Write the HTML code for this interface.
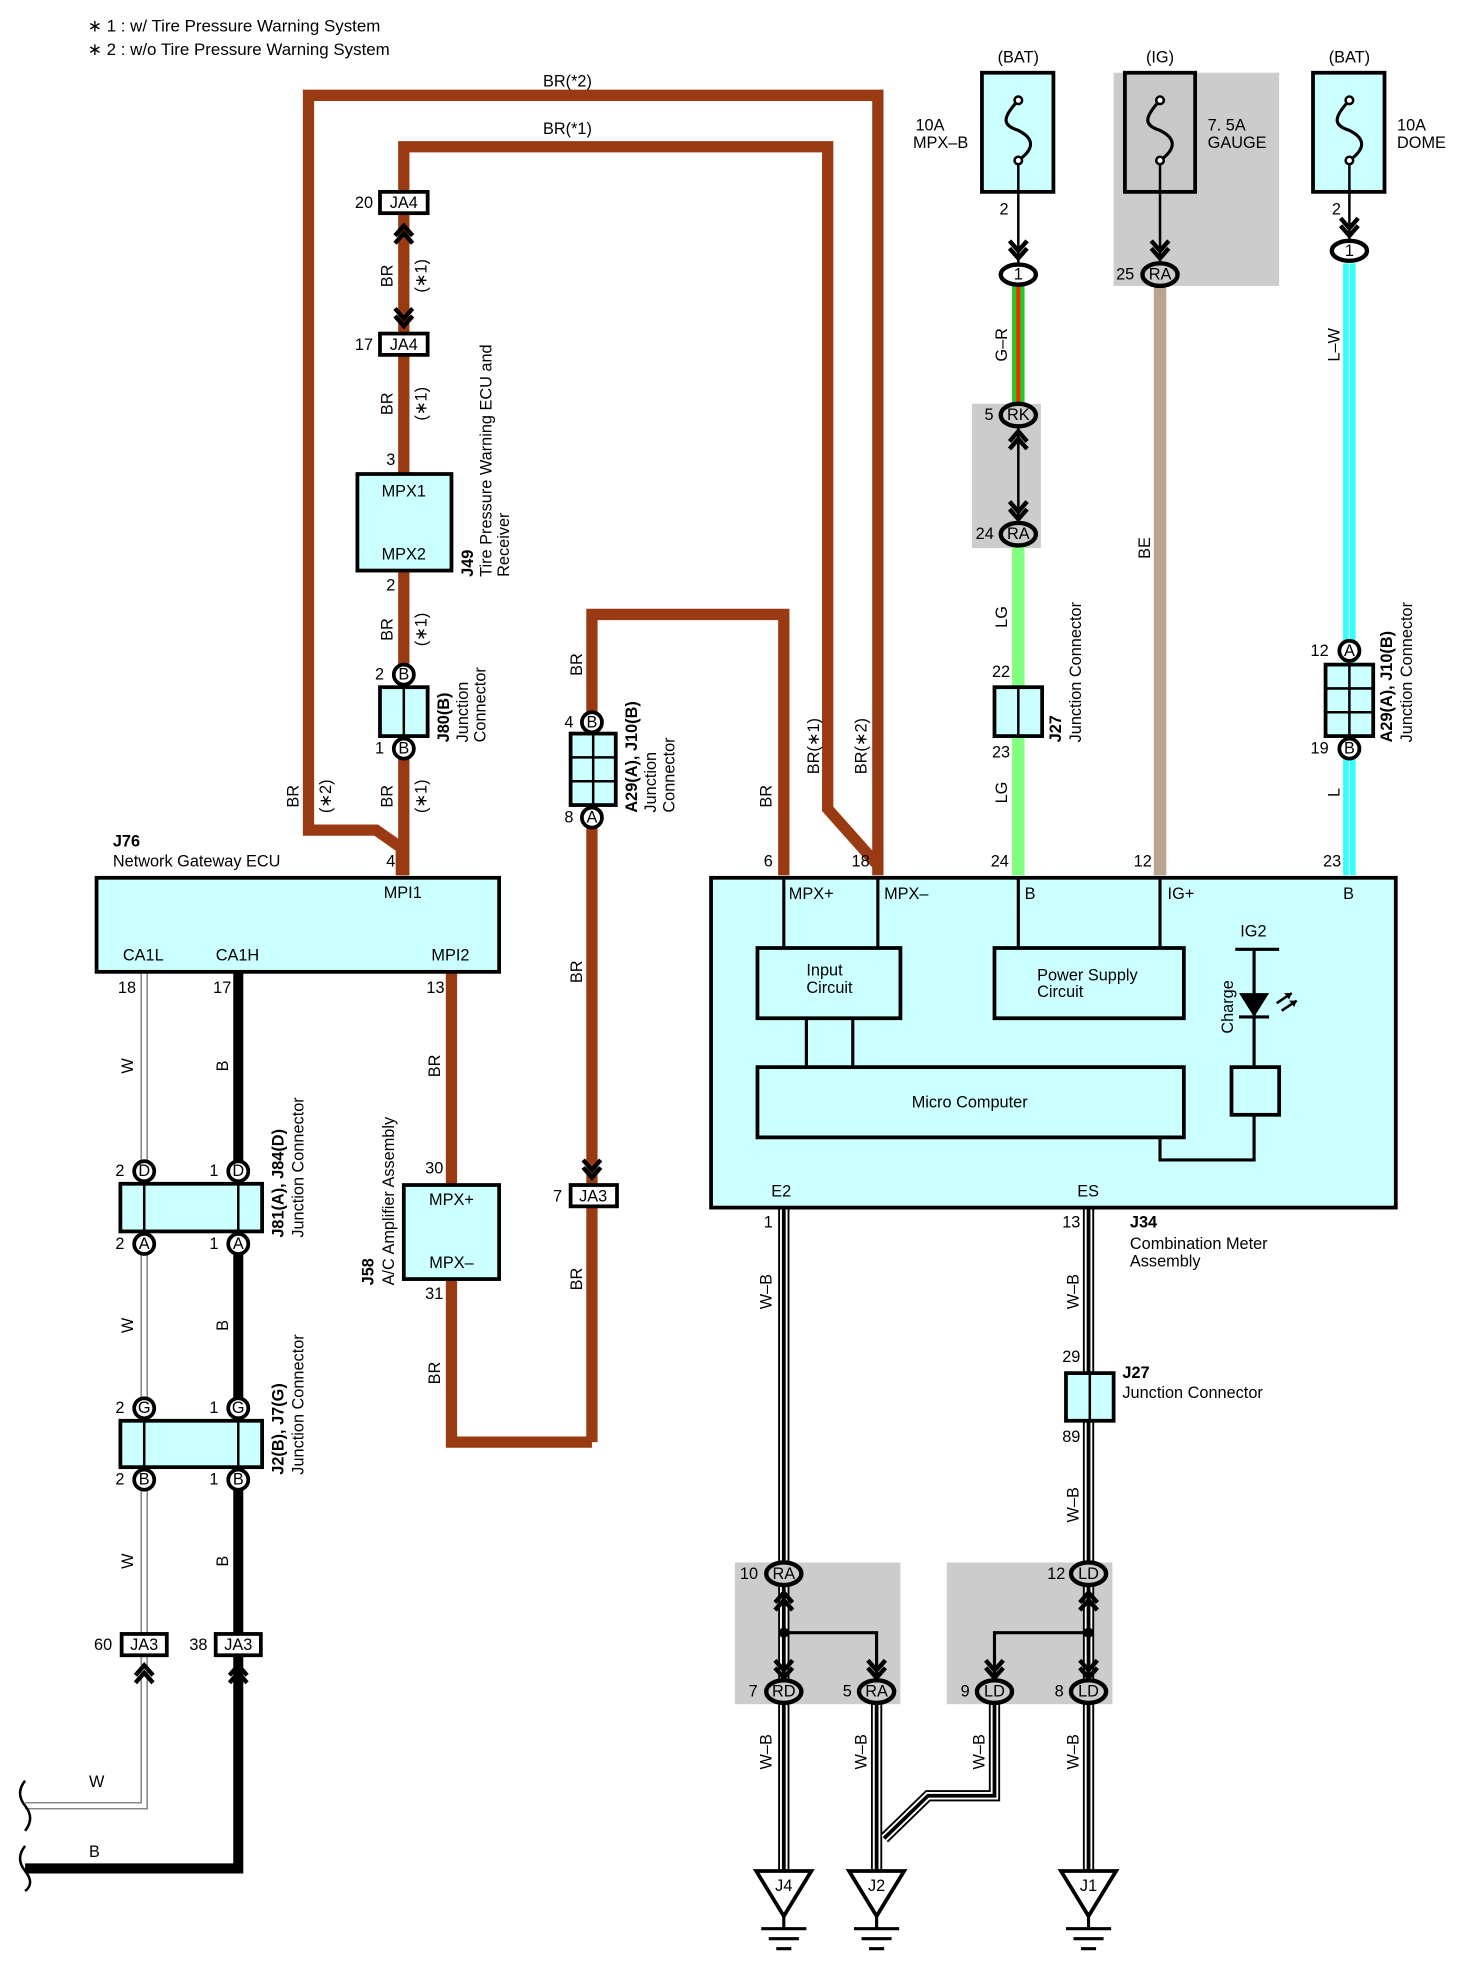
<!DOCTYPE html>
<html><head><meta charset="utf-8"><style>
html,body{margin:0;padding:0;background:#fff}
svg{display:block}
text{font-family:"Liberation Sans",sans-serif;font-size:13px;fill:#000}
.b{font-weight:bold}
.h{font-size:13.5px}
</style></head><body>
<svg width="1461" height="1965" viewBox="0 0 1165 1567" preserveAspectRatio="none" xmlns="http://www.w3.org/2000/svg">
<text class="h" x="70" y="25">∗ 1 : w/ Tire Pressure Warning System</text>
<text class="h" x="70" y="44">∗ 2 : w/o Tire Pressure Warning System</text>

<!-- grey boxes -->
<rect x="888" y="58" width="132" height="170" fill="#cccccc"/>
<rect x="775" y="322" width="55" height="115" fill="#cccccc"/>
<rect x="586" y="1246" width="132" height="113" fill="#cccccc"/>
<rect x="755" y="1246" width="132" height="113" fill="#cccccc"/>

<!-- brown wires -->
<g fill="none" stroke="#9a3a12" stroke-width="9" stroke-linejoin="miter">
<path d="M320,698 L320,676 L300,662 L246,662 L246,76 L700,76 L700,698"/>
<path d="M322,698 L322,117 L660,117 L660,645 L700,690"/>
<path d="M472,1150 L472,490 L625,490 L625,698"/>
<path d="M360,775 L360,1150 L472,1150"/>
</g>
<text x="433" y="69">BR(*2)</text>
<text x="433" y="107">BR(*1)</text>

<!-- colored wires -->
<line x1="812" y1="228" x2="812" y2="322" stroke="#22cc22" stroke-width="10"/>
<line x1="812" y1="228" x2="812" y2="322" stroke="#ff2200" stroke-width="3"/>
<line x1="812" y1="435" x2="812" y2="698" stroke="#80ff80" stroke-width="10"/>
<line x1="925" y1="228" x2="925" y2="698" stroke="#b8a590" stroke-width="10"/>
<line x1="1076" y1="210" x2="1076" y2="698" stroke="#33ffff" stroke-width="10"/>
<line x1="1076" y1="210" x2="1076" y2="698" stroke="#ccffff" stroke-width="1"/>

<!-- left W / B wires -->
<path d="M115,775 L115,1440 L20,1440" fill="none" stroke="#888" stroke-width="6"/>
<path d="M115,775 L115,1440 L20,1440" fill="none" stroke="#fff" stroke-width="3.5"/>
<path d="M190,775 L190,1490 L20,1490" fill="none" stroke="#000" stroke-width="8"/>
<path d="M20,1420 q-8,10 0,20 q8,10 0,20" fill="none" stroke="#000" stroke-width="2"/>
<path d="M20,1472 q-8,10 0,20 q8,10 0,16" fill="none" stroke="#000" stroke-width="2"/>
<text x="71" y="1425">W</text><text x="71" y="1481">B</text>

<!-- W-B wires -->
<g fill="none" stroke-linejoin="miter">
<g stroke="#000" stroke-width="9">
<path d="M625,963 L625,1500"/><path d="M868,963 L868,1500"/><path d="M699,1359 L699,1500"/><path d="M793,1359 L793,1432 L740,1432 L705,1466"/></g>
<g stroke="#fff" stroke-width="6">
<path d="M625,963 L625,1500"/><path d="M868,963 L868,1500"/><path d="M699,1359 L699,1500"/><path d="M793,1359 L793,1432 L740,1432 L705,1466"/></g>
<g stroke="#000" stroke-width="3">
<path d="M625,963 L625,1500"/><path d="M868,963 L868,1500"/><path d="M699,1359 L699,1500"/><path d="M793,1359 L793,1432 L740,1432 L705,1466"/></g>
</g>

<!-- fuses -->
<g stroke="#000" stroke-width="3">
<rect x="783" y="58" width="57" height="95" fill="#ccffff"/>
<rect x="897" y="58" width="56" height="95" fill="#c8c8c8"/>
<rect x="1047" y="58" width="57" height="95" fill="#ccffff"/>
</g>
<g fill="none" stroke="#000" stroke-width="2.5">
<path d="M812,80 C798,95 800,100 812,104 C824,110 826,118 812,128"/>
<path d="M925,80 C911,95 913,100 925,104 C937,110 939,118 925,128"/>
<path d="M1076,80 C1062,95 1064,100 1076,104 C1088,110 1090,118 1076,128"/>
<line x1="812" y1="128" x2="812" y2="210" stroke-width="2"/>
<line x1="925" y1="128" x2="925" y2="210" stroke-width="2"/>
<line x1="1076" y1="128" x2="1076" y2="192" stroke-width="2"/>
<line x1="812" y1="331" x2="812" y2="426" stroke-width="2"/>
</g>
<g fill="#fff" stroke="#000" stroke-width="2">
<circle cx="812" cy="80" r="3"/><circle cx="812" cy="128" r="3"/>
<circle cx="925" cy="80" r="3"/><circle cx="925" cy="128" r="3"/>
<circle cx="1076" cy="80" r="3"/><circle cx="1076" cy="128" r="3"/>
</g>
<g text-anchor="middle"><text x="812" y="50">(BAT)</text><text x="925" y="50">(IG)</text><text x="1076" y="50">(BAT)</text></g>
<text x="730" y="104">10A</text><text x="728" y="118">MPX–B</text>
<text x="963" y="104">7. 5A</text><text x="963" y="118">GAUGE</text>
<text x="1114" y="104">10A</text><text x="1114" y="118">DOME</text>
<text x="797" y="171">2</text><text x="1062" y="171">2</text>

<!-- chevrons -->
<g fill="none" stroke="#000" stroke-width="3.5">
<path d="M805,192 L812,200 L819,192 M805,198 L812,206 L819,198"/>
<path d="M918,192 L925,200 L932,192 M918,198 L925,206 L932,198"/>
<path d="M1069,174 L1076,182 L1083,174 M1069,180 L1076,188 L1083,180"/>
<path d="M805,352 L812,344 L819,352 M805,358 L812,350 L819,358"/>
<path d="M805,400 L812,408 L819,400 M805,406 L812,414 L819,406"/>
<path d="M315,188 L322,180 L329,188 M315,194 L322,186 L329,194"/>
<path d="M315,246 L322,254 L329,246 M315,252 L322,260 L329,252"/>
<path d="M465,925 L472,933 L479,925 M465,931 L472,939 L479,931"/>
<path d="M108,1336 L115,1328 L122,1336 M108,1342 L115,1334 L122,1342"/>
<path d="M183,1336 L190,1328 L197,1336 M183,1342 L190,1334 L197,1342"/>
<path d="M618,1278 L625,1270 L632,1278 M618,1284 L625,1276 L632,1284"/>
<path d="M861,1278 L868,1270 L875,1278 M861,1284 L868,1276 L875,1284"/>
<path d="M618,1324 L625,1332 L632,1324 M618,1330 L625,1338 L632,1330"/>
<path d="M692,1324 L699,1332 L706,1324 M692,1330 L699,1338 L706,1330"/>
<path d="M786,1324 L793,1332 L800,1324 M786,1330 L793,1338 L800,1330"/>
<path d="M861,1324 L868,1332 L875,1324 M861,1330 L868,1338 L875,1330"/>
</g>
<g fill="none" stroke="#000" stroke-width="2.5">
<path d="M625,1262 L625,1340"/><path d="M625,1302 L699,1302 L699,1340"/>
<path d="M868,1262 L868,1340"/><path d="M868,1302 L793,1302 L793,1340"/>
</g>
<circle cx="625" cy="1302" r="4"/><circle cx="868" cy="1302" r="4"/>

<!-- ovals -->
<g stroke="#000" stroke-width="3.5">
<ellipse cx="812" cy="219" rx="14" ry="8" fill="#fff"/>
<ellipse cx="1076" cy="200" rx="14" ry="8" fill="#fff"/>
<ellipse cx="925" cy="219" rx="14" ry="9" fill="#ccc"/>
<ellipse cx="812" cy="331" rx="14" ry="9" fill="#ccc"/>
<ellipse cx="812" cy="426" rx="14" ry="9" fill="#ccc"/>
<ellipse cx="625" cy="1255" rx="14" ry="9" fill="#ccc"/>
<ellipse cx="625" cy="1349" rx="14" ry="9" fill="#ccc"/>
<ellipse cx="699" cy="1349" rx="14" ry="9" fill="#ccc"/>
<ellipse cx="868" cy="1255" rx="14" ry="9" fill="#ccc"/>
<ellipse cx="793" cy="1349" rx="14" ry="9" fill="#ccc"/>
<ellipse cx="868" cy="1349" rx="14" ry="9" fill="#ccc"/>
</g>
<g text-anchor="middle">
<text x="812" y="223">1</text><text x="1076" y="204">1</text><text x="925" y="223">RA</text>
<text x="812" y="335">RK</text><text x="812" y="430">RA</text>
<text x="625" y="1259">RA</text><text x="625" y="1353">RD</text><text x="699" y="1353">RA</text>
<text x="868" y="1259">LD</text><text x="793" y="1353">LD</text><text x="868" y="1353">LD</text>
</g>
<text x="890" y="223">25</text><text x="785" y="335">5</text><text x="778" y="430">24</text>
<text x="590" y="1259">10</text><text x="597" y="1353">7</text><text x="672" y="1353">5</text>
<text x="835" y="1259">12</text><text x="766" y="1353">9</text><text x="841" y="1353">8</text>

<!-- boxes cyan -->
<g stroke="#000" stroke-width="3" fill="#ccffff">
<rect x="285" y="378" width="75" height="77"/>
<rect x="303" y="548" width="38" height="39"/>
<rect x="455" y="585" width="36" height="57"/>
<rect x="793" y="548" width="38" height="39"/>
<rect x="1057" y="530" width="38" height="57"/>
<rect x="77" y="700" width="321" height="75"/>
<rect x="96" y="944" width="113" height="38"/>
<rect x="96" y="1133" width="113" height="37"/>
<rect x="322" y="945" width="76" height="75"/>
<rect x="567" y="700" width="546" height="263"/>
<rect x="850" y="1095" width="38" height="38"/>
</g>
<g stroke="#000" stroke-width="2" fill="none">
<line x1="322" y1="548" x2="322" y2="587"/><line x1="812" y1="548" x2="812" y2="587"/>
<line x1="869" y1="1095" x2="869" y2="1133"/>
<line x1="115" y1="944" x2="115" y2="982"/><line x1="190" y1="944" x2="190" y2="982"/>
<line x1="115" y1="1133" x2="115" y2="1170"/><line x1="190" y1="1133" x2="190" y2="1170"/>
<line x1="473" y1="585" x2="473" y2="642"/><line x1="455" y1="604" x2="491" y2="604"/><line x1="455" y1="623" x2="491" y2="623"/>
<line x1="1076" y1="530" x2="1076" y2="587"/><line x1="1057" y1="549" x2="1095" y2="549"/><line x1="1057" y1="568" x2="1095" y2="568"/>
</g>
<g stroke="#000" stroke-width="3" fill="#fff">
<rect x="303" y="153" width="38" height="17"/><rect x="303" y="266" width="38" height="17"/>
<rect x="455" y="945" width="37" height="17"/>
<rect x="97" y="1303" width="36" height="17"/><rect x="172" y="1303" width="36" height="17"/>
</g>
<g text-anchor="middle">
<text x="322" y="166">JA4</text><text x="322" y="279">JA4</text><text x="473" y="958">JA3</text>
<text x="115" y="1316">JA3</text><text x="190" y="1316">JA3</text>
</g>
<text x="283" y="166">20</text><text x="283" y="279">17</text><text x="441" y="958">7</text>
<text x="75" y="1316">60</text><text x="151" y="1316">38</text>

<!-- circle connectors -->
<g stroke="#000" stroke-width="3" fill="#fff">
<circle cx="322" cy="538" r="8"/><circle cx="322" cy="597" r="8"/>
<circle cx="472" cy="576" r="8"/><circle cx="472" cy="652" r="8"/>
<circle cx="1076" cy="519" r="8"/><circle cx="1076" cy="597" r="8"/>
<circle cx="115" cy="934" r="8"/><circle cx="190" cy="934" r="8"/>
<circle cx="115" cy="992" r="8"/><circle cx="190" cy="992" r="8"/>
<circle cx="115" cy="1123" r="8"/><circle cx="190" cy="1123" r="8"/>
<circle cx="115" cy="1180" r="8"/><circle cx="190" cy="1180" r="8"/>
</g>
<g text-anchor="middle" font-size="11">
<text x="322" y="542" font-size="11">B</text><text x="322" y="601" font-size="11">B</text>
<text x="472" y="580" font-size="11">B</text><text x="472" y="656" font-size="11">A</text>
<text x="1076" y="523" font-size="11">A</text><text x="1076" y="601" font-size="11">B</text>
<text x="115" y="938" font-size="11">D</text><text x="190" y="938" font-size="11">D</text>
<text x="115" y="996" font-size="11">A</text><text x="190" y="996" font-size="11">A</text>
<text x="115" y="1127" font-size="11">G</text><text x="190" y="1127" font-size="11">G</text>
<text x="115" y="1184" font-size="11">B</text><text x="190" y="1184" font-size="11">B</text>
</g>
<text x="299" y="542">2</text><text x="299" y="601">1</text>
<text x="450" y="580">4</text><text x="450" y="656">8</text>
<text x="1045" y="523">12</text><text x="1045" y="601">19</text>
<text x="92" y="938">2</text><text x="167" y="938">1</text>
<text x="92" y="996">2</text><text x="167" y="996">1</text>
<text x="92" y="1127">2</text><text x="167" y="1127">1</text>
<text x="92" y="1184">2</text><text x="167" y="1184">1</text>
<text x="791" y="540">22</text><text x="791" y="604">23</text>

<g text-anchor="middle"><text x="322" y="396">MPX1</text><text x="322" y="446">MPX2</text></g>
<text x="308" y="371">3</text><text x="308" y="471">2</text>

<text class="b" x="90" y="675">J76</text><text x="90" y="691">Network Gateway ECU</text>
<text x="308" y="691">4</text>
<text x="306" y="716">MPI1</text><text x="98" y="766">CA1L</text><text x="172" y="766">CA1H</text><text x="344" y="766">MPI2</text>
<text x="94" y="792">18</text><text x="170" y="792">17</text><text x="340" y="792">13</text>

<g text-anchor="middle"><text x="360" y="961">MPX+</text><text x="360" y="1011">MPX–</text></g>
<text x="339" y="936">30</text><text x="339" y="1036">31</text>

<text x="609" y="691">6</text><text x="679" y="691">18</text><text x="790" y="691">24</text><text x="904" y="691">12</text><text x="1055" y="691">23</text>
<text x="629" y="717">MPX+</text><text x="705" y="717">MPX–</text><text x="817" y="717">B</text><text x="931" y="717">IG+</text><text x="1071" y="717">B</text>
<g stroke="#000" stroke-width="2.5" fill="none">
<line x1="625" y1="700" x2="625" y2="756"/><line x1="700" y1="700" x2="700" y2="756"/>
<line x1="812" y1="700" x2="812" y2="756"/><line x1="925" y1="700" x2="925" y2="756"/>
<line x1="643" y1="812" x2="643" y2="851"/><line x1="680" y1="812" x2="680" y2="851"/>
<rect x="604" y="756" width="114" height="56" stroke-width="3"/>
<rect x="793" y="756" width="151" height="56" stroke-width="3"/>
<rect x="604" y="851" width="340" height="56" stroke-width="3"/>
<rect x="982" y="851" width="38" height="38" stroke-width="3"/>
<line x1="985" y1="757" x2="1020" y2="757"/>
<line x1="1000" y1="757" x2="1000" y2="851"/>
<path d="M1000,889 L1000,925 L925,925 L925,907"/>
<line x1="988" y1="811" x2="1012" y2="811"/>
<path d="M1018,800 L1030,792 M1022,806 L1034,798" stroke-width="2"/>
</g>
<path d="M988,792 L1012,792 L1000,811 Z" fill="#000"/>
<path d="M1030,792 l-6,0 l4,5 Z M1034,798 l-6,0 l4,5 Z" fill="#000"/>
<text x="989" y="747">IG2</text>
<text x="643" y="778">Input</text><text x="643" y="792">Circuit</text>
<text x="827" y="782">Power Supply</text><text x="827" y="795">Circuit</text>
<text x="727" y="883">Micro Computer</text>
<text x="615" y="954">E2</text><text x="859" y="954">ES</text>
<text x="609" y="979">1</text><text x="847" y="979">13</text>
<text class="b" x="901" y="979">J34</text><text x="901" y="996">Combination Meter</text><text x="901" y="1010">Assembly</text>
<text class="b" x="895" y="1099">J27</text><text x="895" y="1115">Junction Connector</text>
<text x="847" y="1086">29</text><text x="847" y="1150">89</text>

<g stroke="#000" stroke-width="3" fill="#fff">
<path d="M603,1492 L647,1492 L625,1528 Z"/>
<path d="M677,1492 L721,1492 L699,1528 Z"/>
<path d="M846,1492 L890,1492 L868,1528 Z"/>
</g>
<g stroke="#000" stroke-width="2.5">
<path d="M625,1528 V1538 M607,1538 H643 M613,1546 H637 M619,1554 H631"/>
<path d="M699,1528 V1538 M681,1538 H717 M687,1546 H711 M693,1554 H705"/>
<path d="M868,1528 V1538 M850,1538 H886 M856,1546 H880 M862,1554 H874"/>
</g>
<g text-anchor="middle"><text x="625" y="1508">J4</text><text x="699" y="1508">J2</text><text x="868" y="1508">J1</text></g>

<g text-anchor="middle">
<text transform="translate(313,220) rotate(-90)">BR</text><text transform="translate(340,220) rotate(-90)">(∗1)</text>
<text transform="translate(313,322) rotate(-90)">BR</text><text transform="translate(340,322) rotate(-90)">(∗1)</text>
<text transform="translate(313,502) rotate(-90)">BR</text><text transform="translate(340,502) rotate(-90)">(∗1)</text>
<text transform="translate(313,635) rotate(-90)">BR</text><text transform="translate(340,635) rotate(-90)">(∗1)</text>
<text transform="translate(238,635) rotate(-90)">BR</text><text transform="translate(264,635) rotate(-90)">(∗2)</text>
<text transform="translate(464,530) rotate(-90)">BR</text>
<text transform="translate(464,775) rotate(-90)">BR</text>
<text transform="translate(464,1020) rotate(-90)">BR</text>
<text transform="translate(615,635) rotate(-90)">BR</text>
<text transform="translate(653,595) rotate(-90)">BR(∗1)</text>
<text transform="translate(691,595) rotate(-90)">BR(∗2)</text>
<text transform="translate(351,850) rotate(-90)">BR</text>
<text transform="translate(351,1095) rotate(-90)">BR</text>
<text transform="translate(803,275) rotate(-90)">G–R</text>
<text transform="translate(803,492) rotate(-90)">LG</text>
<text transform="translate(803,632) rotate(-90)">LG</text>
<text transform="translate(917,437) rotate(-90)">BE</text>
<text transform="translate(1068,275) rotate(-90)">L–W</text>
<text transform="translate(1068,632) rotate(-90)">L</text>
<text transform="translate(106,850) rotate(-90)">W</text><text transform="translate(182,850) rotate(-90)">B</text>
<text transform="translate(106,1057) rotate(-90)">W</text><text transform="translate(182,1057) rotate(-90)">B</text>
<text transform="translate(106,1245) rotate(-90)">W</text><text transform="translate(182,1245) rotate(-90)">B</text>
<text transform="translate(615,1030) rotate(-90)">W–B</text>
<text transform="translate(860,1030) rotate(-90)">W–B</text>
<text transform="translate(860,1200) rotate(-90)">W–B</text>
<text transform="translate(615,1397) rotate(-90)">W–B</text>
<text transform="translate(691,1397) rotate(-90)">W–B</text>
<text transform="translate(785,1397) rotate(-90)">W–B</text>
<text transform="translate(860,1397) rotate(-90)">W–B</text>
<text transform="translate(983,803) rotate(-90)">Charge</text>
</g>
<g text-anchor="start">
<text class="b" transform="translate(377,460) rotate(-90)">J49</text>
<text transform="translate(392,460) rotate(-90)">Tire Pressure Warning ECU and</text>
<text transform="translate(406,460) rotate(-90)">Receiver</text>
<text class="b" transform="translate(358,592) rotate(-90)">J80(B)</text>
<text transform="translate(373,592) rotate(-90)">Junction</text>
<text transform="translate(387,592) rotate(-90)">Connector</text>
<text class="b" transform="translate(508,648) rotate(-90)">A29(A), J10(B)</text>
<text transform="translate(523,648) rotate(-90)">Junction</text>
<text transform="translate(538,648) rotate(-90)">Connector</text>
<text class="b" transform="translate(846,592) rotate(-90)">J27</text>
<text transform="translate(862,592) rotate(-90)">Junction Connector</text>
<text class="b" transform="translate(1110,592) rotate(-90)">A29(A), J10(B)</text>
<text transform="translate(1126,592) rotate(-90)">Junction Connector</text>
<text class="b" transform="translate(226,987) rotate(-90)">J81(A), J84(D)</text>
<text transform="translate(242,987) rotate(-90)">Junction Connector</text>
<text class="b" transform="translate(226,1176) rotate(-90)">J2(B), J7(G)</text>
<text transform="translate(242,1176) rotate(-90)">Junction Connector</text>
<text class="b" transform="translate(298,1025) rotate(-90)">J58</text>
<text transform="translate(314,1025) rotate(-90)">A/C Amplifier Assembly</text>
</g>
</svg>
</body></html>
